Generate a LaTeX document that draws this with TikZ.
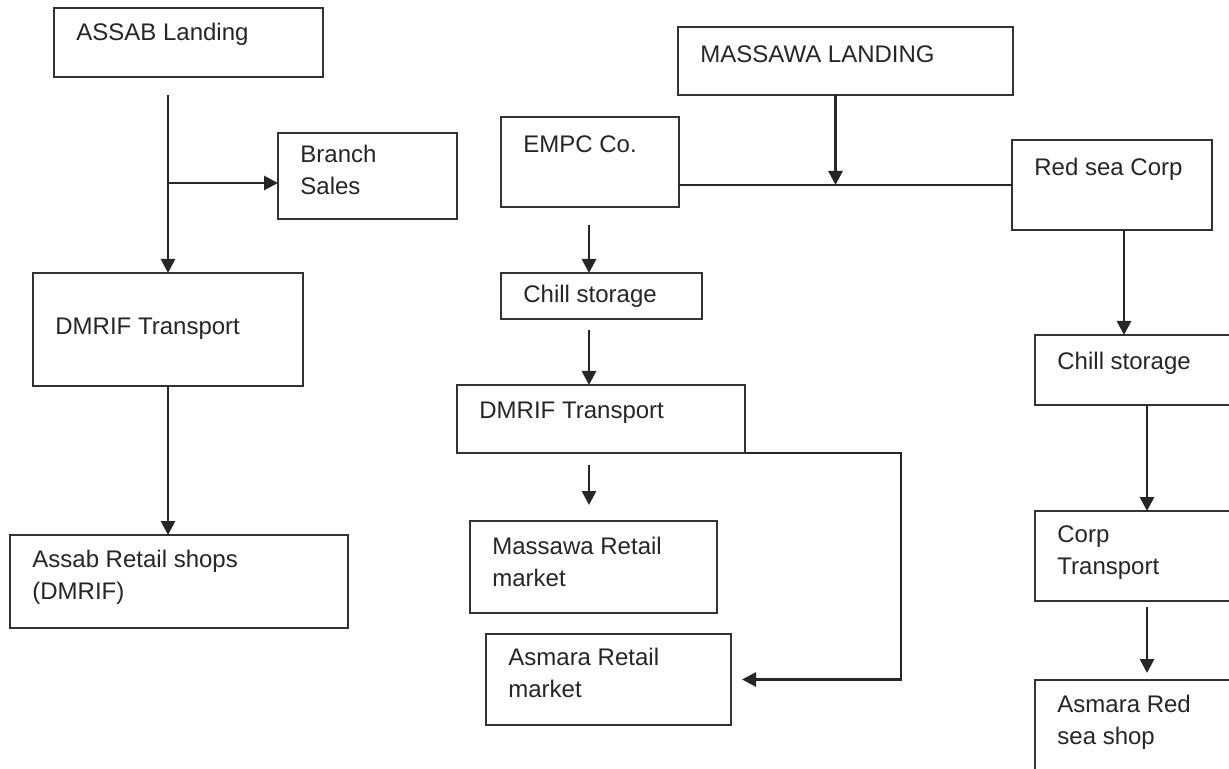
\documentclass[tikz,border=0pt]{standalone}
\usepackage{fontspec}
\setmainfont{Liberation Sans}
\usetikzlibrary{arrows.meta,positioning,calc}

\begin{document}
\begin{tikzpicture}[x=0.5pt,y=-0.5pt,
				box/.style={draw=black!80,line width=1.1pt,fill=white,rectangle,anchor=north west,inner sep=0pt,outer sep=0pt},
				boxtext/.style={anchor=north west,align=left,inner sep=0pt,text=black!85,
					font=\fontsize{12}{16}\selectfont,xshift=11pt,yshift=#1},
				boxtext/.default=-8pt,
				flow/.style={draw=black!85,line width=1.4pt,-{Triangle[width=7pt,length=7pt]}},
				link/.style={draw=black!85,line width=1.4pt}]
			\useasboundingbox (0,0) rectangle (1229,769);
			% Assab side
			\node [box,minimum width=134.5pt,minimum height=34.5pt,label={[boxtext=-7.5pt]north west:ASSAB Landing}] (assab) at (54,8) {};
			\node [box,minimum width=89.5pt,minimum height=43pt,label={[boxtext=-6pt]north west:{Branch\\Sales}}] (branch) at (278,133) {};
			\node [box,minimum width=135pt,minimum height=56.5pt,label={[boxtext=-22.5pt]north west:DMRIF Transport}] (dmrifL) at (33,273) {};
			\node [box,minimum width=169pt,minimum height=46.5pt,label={[boxtext=-7.5pt]north west:{Assab Retail shops\\(DMRIF)}}] (assabR) at (10,535) {};
			% Massawa side
			\node [box,minimum width=167.5pt,minimum height=34pt,label={[boxtext=-9pt]north west:MASSAWA LANDING}] (massawa) at (678,27) {};
			\node [box,minimum width=89pt,minimum height=45pt,label={[boxtext=-9pt]north west:EMPC Co.}] (empc) at (501,117) {};
			\node [box,minimum width=100pt,minimum height=45pt,label={[boxtext=-9pt]north west:Red sea Corp}] (redsea) at (1012,140) {};
			\node [box,minimum width=100.5pt,minimum height=23pt,label={[boxtext=-6pt]north west:Chill storage}] (chillM) at (501,273) {};
			\node [box,minimum width=144pt,minimum height=34pt,label={[boxtext=-8.5pt]north west:DMRIF Transport}] (dmrifM) at (457,385) {};
			\node [box,minimum width=123.5pt,minimum height=46pt,label={[boxtext=-8pt]north west:{Massawa Retail\\market}}] (massawaR) at (470,521) {};
			\node [box,minimum width=122.5pt,minimum height=45.5pt,label={[boxtext=-7pt]north west:{Asmara Retail\\market}}] (asmaraR) at (486,634) {};
			\node [box,minimum width=105pt,minimum height=35pt,label={[boxtext=-8.5pt]north west:Chill storage}] (chillR) at (1035,335) {};
			\node [box,minimum width=105pt,minimum height=45pt,label={[boxtext=-7pt]north west:{Corp\\Transport}}] (corp) at (1035,511) {};
			\node [box,minimum width=105pt,minimum height=50pt,label={[boxtext=-7.5pt]north west:{Asmara Red\\sea shop}}] (asmaraRS) at (1035,680) {};

			\coordinate (midcol) at (589,0);
			\coordinate (rightA) at (1124,0);
			\coordinate (rightB) at (1147,0);
			\path ($(branch.west)+(0,7)$) coordinate (branchin);
			\path ($(massawa.south)+(-10,0)$) coordinate (massawaout);

			% connectors
			\draw [flow] ($(assab.south -| dmrifL.north)+(0,18)$) -- (dmrifL.north);
			\draw [flow] (branchin -| dmrifL.north) -- (branchin);
			\draw [flow] (dmrifL.south) -- (dmrifL.south |- assabR.north);
			\draw [link] (empc.east |- redsea.west) -- (redsea.west);
			\draw [flow] (massawaout) -- (massawaout |- redsea.west);
			\draw [flow] ($(empc.south -| midcol)+(0,18)$) -- (chillM.north -| midcol);
			\draw [flow] ($(chillM.south -| midcol)+(0,11)$) -- (dmrifM.north -| midcol);
			\draw [flow] ($(dmrifM.south -| midcol)+(0,12)$) -- ($(massawaR.north -| midcol)+(0,-16)$);
			\draw [flow] (dmrifM.south east) -- ++(156,0) |- ($(asmaraR.east)+(11,0)$);
			\draw [flow] (redsea.south -| rightA) -- (chillR.north -| rightA);
			\draw [flow] (chillR.south -| rightB) -- (corp.north -| rightB);
			\draw [flow] ($(corp.south -| rightB)+(0,6)$) -- ($(asmaraRS.north -| rightB)+(0,-7)$);
		\end{tikzpicture}
\end{document}
